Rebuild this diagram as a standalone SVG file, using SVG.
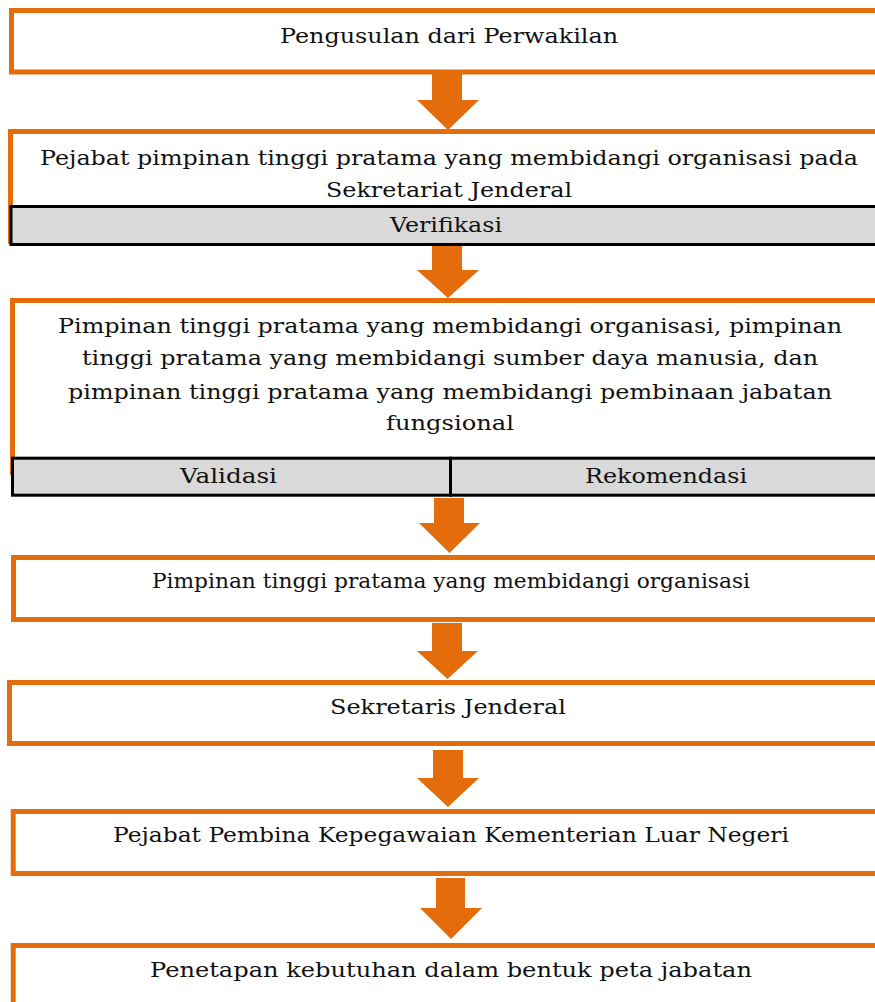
<svg xmlns="http://www.w3.org/2000/svg" width="875" height="1002" viewBox="0 0 875 1002">
<style>
.box{fill:#fff;stroke:#E46C0A;stroke-width:5}
.bar{fill:#D9D9D9;stroke:#000;stroke-width:3}
.arr{fill:#E46C0A}
text{font-family:"DejaVu Serif","Liberation Serif",serif;font-size:21px;fill:#111;text-anchor:middle}
</style>
<rect width="875" height="1002" fill="#fff"/>
<g id="n1">
<rect class="box" x="11.5" y="10.5" width="880" height="61.5"/>
<text x="449" y="43" textLength="338" lengthAdjust="spacingAndGlyphs">Pengusulan dari Perwakilan</text>
</g>
<g id="n2">
<rect class="box" x="10.5" y="131.5" width="880" height="110"/>
<rect class="bar" x="11" y="206.5" width="880" height="38"/>
<text x="449" y="165" textLength="818" lengthAdjust="spacingAndGlyphs">Pejabat pimpinan tinggi pratama yang membidangi organisasi pada</text>
<text x="449" y="197" textLength="246" lengthAdjust="spacingAndGlyphs">Sekretariat Jenderal</text>
<text x="446" y="232" textLength="112" lengthAdjust="spacingAndGlyphs">Verifikasi</text>
</g>
<g id="n3">
<rect class="box" x="12.5" y="300.5" width="880" height="172"/>
<rect class="bar" x="12.5" y="458.2" width="438" height="37"/>
<rect class="bar" x="450.5" y="458.2" width="440" height="37"/>
<text x="450" y="333" textLength="784" lengthAdjust="spacingAndGlyphs">Pimpinan tinggi pratama yang membidangi organisasi, pimpinan</text>
<text x="450" y="365" textLength="736" lengthAdjust="spacingAndGlyphs">tinggi pratama yang membidangi sumber daya manusia, dan</text>
<text x="450" y="399" textLength="764" lengthAdjust="spacingAndGlyphs">pimpinan tinggi pratama yang membidangi pembinaan jabatan</text>
<text x="450" y="430" textLength="128" lengthAdjust="spacingAndGlyphs">fungsional</text>
<text x="228.5" y="483" textLength="97" lengthAdjust="spacingAndGlyphs">Validasi</text>
<text x="666" y="483" textLength="162" lengthAdjust="spacingAndGlyphs">Rekomendasi</text>
</g>
<g id="n4">
<rect class="box" x="13.5" y="557.5" width="880" height="62"/>
<text x="451" y="588" textLength="598" lengthAdjust="spacingAndGlyphs">Pimpinan tinggi pratama yang membidangi organisasi</text>
</g>
<g id="n5">
<rect class="box" x="9.5" y="682.5" width="880" height="61"/>
<text x="448" y="714" textLength="236" lengthAdjust="spacingAndGlyphs">Sekretaris Jenderal</text>
</g>
<g id="n6">
<rect class="box" x="13.2" y="811.5" width="880" height="62"/>
<text x="451" y="842" textLength="676" lengthAdjust="spacingAndGlyphs">Pejabat Pembina Kepegawaian Kementerian Luar Negeri</text>
</g>
<g id="n7">
<rect class="box" x="13.2" y="945.5" width="880" height="80"/>
<text x="451" y="977" textLength="602" lengthAdjust="spacingAndGlyphs">Penetapan kebutuhan dalam bentuk peta jabatan</text>
</g>
<g id="connectors">
<polygon class="arr" points="432,74 462,74 462,100 479,100 448,130 417,100 432,100"/>
<polygon class="arr" points="432,246 462,246 462,270 479,270 448,298 417,270 432,270"/>
<polygon class="arr" points="434,498 464,498 464,523 480,523 449.5,553 419,523 434,523"/>
<polygon class="arr" points="432,623 462,623 462,651 478,651 447.5,679 417,651 432,651"/>
<polygon class="arr" points="433,750 463,750 463,778 479,778 448,807 417,778 433,778"/>
<polygon class="arr" points="436,878 465,878 465,908 482,908 451,939 420,908 436,908"/>
</g>
</svg>
